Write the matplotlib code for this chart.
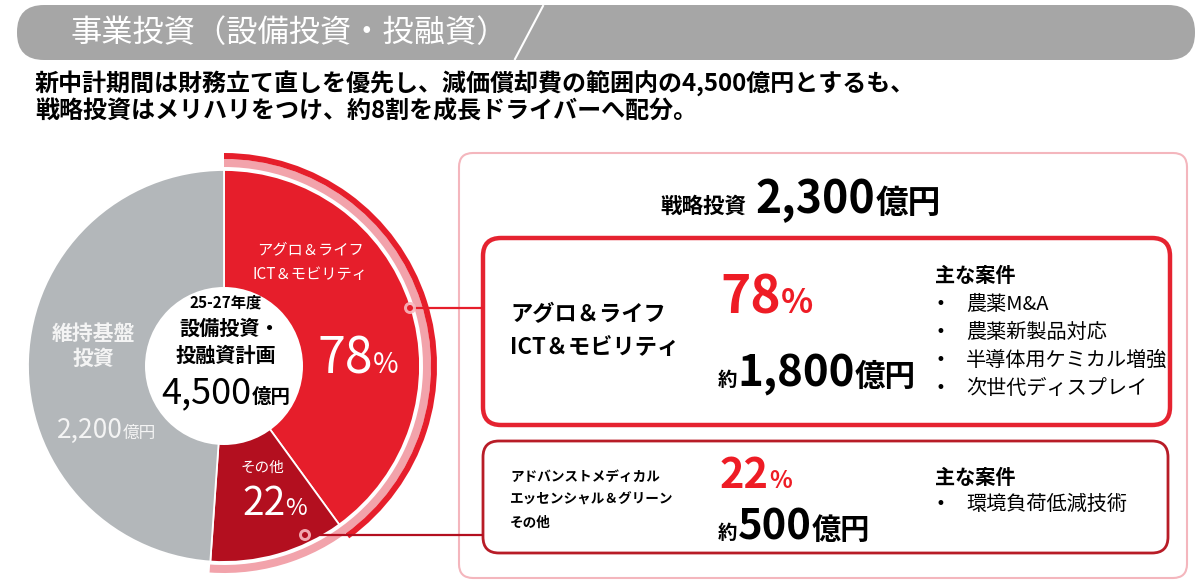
import matplotlib
matplotlib.use('Agg')
import matplotlib.pyplot as plt
from matplotlib.patches import Circle, Wedge, FancyBboxPatch

plt.rcParams['font.family'] = ['Noto Sans CJK JP', 'DejaVu Sans']

# data (億円)
segments = ['アグロ＆ライフ\nICT＆モビリティ', 'その他', '維持基盤\n投資']
values = [1800, 500, 2200]
strategic_labels = ['アグロ＆ライフ\nICT＆モビリティ', 'アドバンストメディカル\nエッセンシャル＆グリーン\nその他']
strategic_share = [78, 22]
cases_1 = ['農薬M&A', '農薬新製品対応', '半導体用ケミカル増強', '次世代ディスプレイ']
cases_2 = ['環境負荷低減技術']
title = '事業投資（設備投資・投融資）'
subtitle = ['新中計期間は財務立て直しを優先し、減価償却費の範囲内の4,500億円とするも、',
            '戦略投資はメリハリをつけ、約8割を成長ドライバーへ配分。']

total = sum(values)
strategic = values[0] + values[1]

RED = '#e61e2b'
DARK = '#b30f1f'
GRAY = '#b3b7ba'
PINK = '#f2a3ab'

fig = plt.figure(figsize=(12, 5.83), dpi=100)
ax = fig.add_axes([0, 0, 1, 1])

# pie (y axis is inverted later, so counterclock in data = clockwise on screen)
cx, cy, R = 224, 366, 196
ax.pie(values, colors=[RED, DARK, GRAY], startangle=-90, counterclock=True,
       center=(cx, cy), radius=R,
       wedgeprops=dict(edgecolor='white', linewidth=1.3))
ax.set_xlim(0, 1200)
ax.set_ylim(583, 0)
ax.set_aspect('equal')
ax.axis('off')

a_big = 360 * values[0] / total
a_dark = 360 * values[1] / total
ax.add_patch(Wedge((cx, cy), 207, -90, -90 + a_big + a_dark, width=8, fc=PINK, ec='none'))
ax.add_patch(Wedge((cx, cy), 213, -90, -90 + a_big, width=6, fc=RED, ec='none'))
ax.add_patch(Circle((cx, cy), 79, fc='white', ec='none', zorder=3))

r = fig.canvas.get_renderer()


def runs(x, y, parts, ha='left'):
    objs = []
    for s, size, col, w in parts:
        objs.append(ax.text(0, y, s, fontsize=size, color=col, fontweight=w,
                            va='baseline', ha='left', zorder=6))
    widths = [t.get_window_extent(r).width for t in objs]
    start = x - sum(widths) / 2 if ha == 'center' else x
    for t, wd in zip(objs, widths):
        t.set_x(start)
        start += wd


# title bar
ax.add_patch(FancyBboxPatch((17, 5), 1178, 55, boxstyle='round,pad=0,rounding_size=27',
                            fc='#a6a6a6', ec='none'))
ax.plot([543, 515], [6, 59], color='white', lw=1.5)
ax.text(70, 33, title, fontsize=22.5, color='white', va='center', ha='left')
ax.text(35, 84, subtitle[0], fontsize=17.3, fontweight='bold', va='center')
ax.text(35, 112, subtitle[1], fontsize=17.3, fontweight='bold', va='center')

# pie labels
l1, l2 = segments[0].split('\n')
ax.text(310, 250, l1, fontsize=11, color='white', ha='center', va='center')
ax.text(310, 275, l2, fontsize=11, color='white', ha='center', va='center')
runs(317, 373, [(f'{strategic_share[0]}', 36, 'white', 'normal'), ('%', 20, 'white', 'normal')])
ax.text(262, 468, segments[1], fontsize=10.5, color='white', ha='center', va='center')
runs(242, 515, [(f'{strategic_share[1]}', 28, 'white', 'normal'), ('%', 17, 'white', 'normal')])
g1, g2 = segments[2].split('\n')
ax.text(93, 333, g1, fontsize=15, color='#f4f4f4', fontweight='bold', ha='center', va='center')
ax.text(93, 358, g2, fontsize=15, color='#f4f4f4', fontweight='bold', ha='center', va='center')
runs(57, 438, [(f'{values[2]:,}', 19, '#f4f4f4', 'normal'), ('億円', 12, '#f4f4f4', 'normal')])

# centre
ax.text(226, 303, '25-27年度', fontsize=11, fontweight='bold', ha='center', va='center', zorder=6)
ax.text(230, 328, '設備投資・', fontsize=14.5, fontweight='bold', ha='center', va='center', zorder=6)
ax.text(226, 355, '投融資計画', fontsize=14.5, fontweight='bold', ha='center', va='center', zorder=6)
runs(226, 403, [(f'{total:,}', 26, 'black', 'normal'), ('億円', 14, 'black', 'bold')], ha='center')

# connectors
for (x0, y0), col in [((410, 308), RED), ((305, 535), DARK)]:
    ax.plot([x0, 482], [y0, y0], color=col, lw=1.6, zorder=7)
    ax.add_patch(Circle((x0, y0), 6, fc='#f7b9bf', ec='none', alpha=0.9, zorder=7))
    ax.add_patch(Circle((x0, y0), 3, fc=col, ec='none', zorder=8))

# boxes
ax.add_patch(FancyBboxPatch((459, 153), 728, 425, boxstyle='round,pad=0,rounding_size=14',
                            fc='white', ec='#f4b6bd', lw=1.5, zorder=1))
ax.add_patch(FancyBboxPatch((483, 238), 687, 187, boxstyle='round,pad=0,rounding_size=18',
                            fc='white', ec='#e52330', lw=3.2, zorder=2))
ax.add_patch(FancyBboxPatch((483, 441), 685, 112, boxstyle='round,pad=0,rounding_size=16',
                            fc='white', ec='#b81c27', lw=2, zorder=2))

runs(660, 213, [('戦略投資', 15.5, 'black', 'bold'), ('  ', 15.5, 'black', 'bold'),
                (f'{strategic:,}', 32, 'black', 'bold'), ('億円', 23.5, 'black', 'bold')])

b1, b2 = strategic_labels[0].split('\n')
ax.text(510, 315, b1, fontsize=16, fontweight='bold', va='center', zorder=6)
ax.text(510, 347, b2, fontsize=16, fontweight='bold', va='center', zorder=6)
runs(720, 313, [(f'{strategic_share[0]}', 37, '#ee1c25', 'bold'), ('%', 24, '#ee1c25', 'bold')])
runs(718, 386, [('約', 14, 'black', 'bold'), (f'{values[0]:,}', 31.5, 'black', 'bold'),
                ('億円', 22, 'black', 'bold')])
ax.text(935, 275, '主な案件', fontsize=14.5, fontweight='bold', va='center', zorder=6)
for i, c in enumerate(cases_1):
    yy = 304 + i * 28
    ax.text(936, yy, '•', fontsize=12, family='DejaVu Sans', va='center', zorder=6)
    ax.text(966, yy, c, fontsize=14.5, va='center', zorder=6)

for i, s in enumerate(strategic_labels[1].split('\n')):
    ax.text(510, 477 + i * 23, s, fontsize=9.8, fontweight='bold', va='center', zorder=6)
runs(720, 488, [(f'{strategic_share[1]}', 30, '#ee1c25', 'bold'), ('%', 17, '#ee1c25', 'bold')])
runs(718, 539, [('約', 14, 'black', 'bold'), (f'{values[1]:,}', 30, 'black', 'bold'),
                ('億円', 21, 'black', 'bold')])
ax.text(935, 477, '主な案件', fontsize=14.5, fontweight='bold', va='center', zorder=6)
for i, c in enumerate(cases_2):
    yy = 504 + i * 28
    ax.text(936, yy, '•', fontsize=12, family='DejaVu Sans', va='center', zorder=6)
    ax.text(966, yy, c, fontsize=14.5, va='center', zorder=6)

fig.savefig('out.png', dpi=100)
